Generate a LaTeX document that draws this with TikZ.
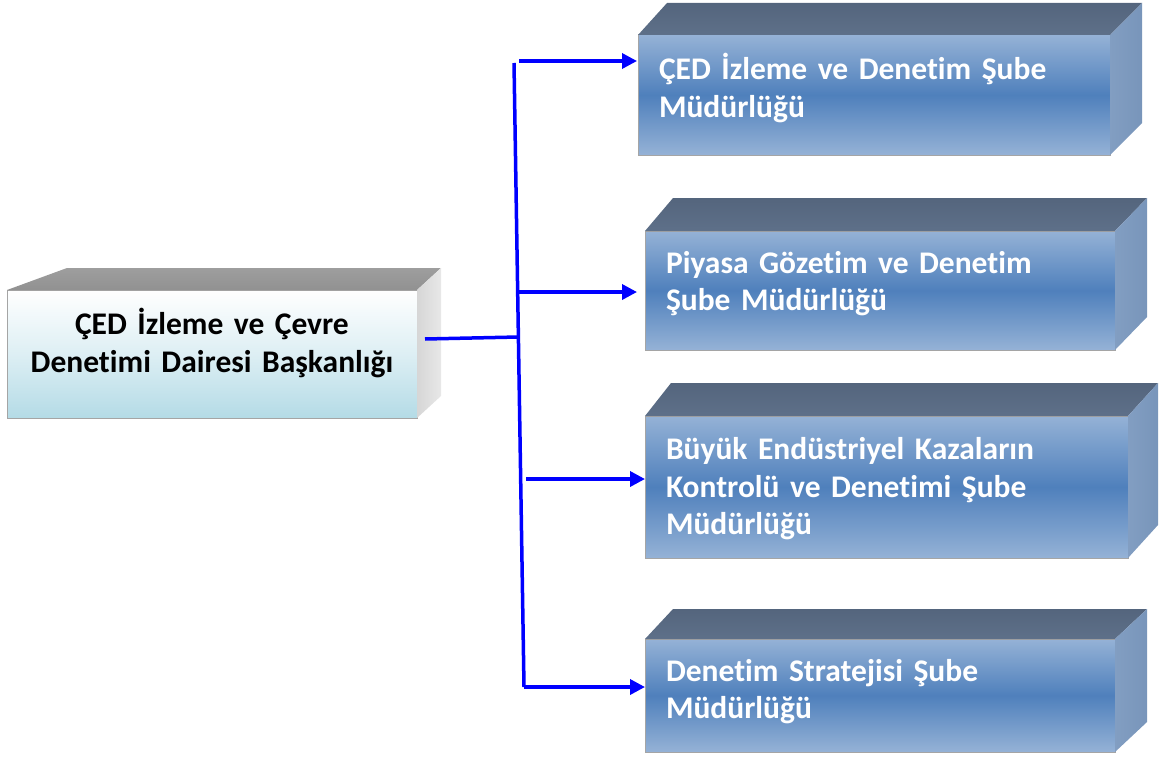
\documentclass[tikz,border=0pt]{standalone}
\usepackage{fontspec}
\setmainfont{Carlito}[Ligatures=NoCommon]
\usetikzlibrary{arrows.meta,calc}
\definecolor{conn}{RGB}{0,0,255}
\definecolor{blueTop}{RGB}{149,178,214}
\definecolor{blueMid}{RGB}{79,128,188}
\definecolor{slateA}{RGB}{84,101,125}
\definecolor{slateB}{RGB}{94,112,137}
\definecolor{sideA}{RGB}{130,158,194}
\definecolor{sideB}{RGB}{120,149,186}
\definecolor{edgeGray}{RGB}{165,165,165}
\definecolor{lightCyan}{RGB}{180,219,230}
\definecolor{grayTopA}{RGB}{145,145,145}
\definecolor{grayTopB}{RGB}{158,158,158}
\definecolor{graySideA}{RGB}{214,214,214}
\definecolor{graySideB}{RGB}{232,232,232}

\tikzset{
  bluefront/.style={draw=edgeGray, line width=1pt, outer sep=0pt,
    inner xsep=21pt, inner ysep=0pt, align=left, text=white,
    font=\bfseries\fontsize{31.5}{37.5}\selectfont,
    top color=blueTop, bottom color=blueTop, middle color=blueMid},
  headfront/.style={draw=edgeGray, line width=1pt, outer sep=0pt,
    inner xsep=0pt, inner ysep=0pt, align=center, text=black,
    font=\bfseries\fontsize{31.5}{37.5}\selectfont,
    top color=white, bottom color=lightCyan, middle color={lightCyan!45!white}},
  trunkline/.style={draw=conn, line width=3.5pt},
  arr/.style={draw=conn, line width=3.5pt, -{Triangle[length=15pt,width=15pt]}}
}

\newcommand{\cubefaces}[8]{%
  % #1 node, #2 left dx, #3 right dx, #4 dy, #5/#6 top colours, #7/#8 side colours
  \shade[top color=#5, bottom color=#6] (#1.north west) -- ++(#2,-#4)
     -- ($(#1.north east)+(#3,-#4)$) -- (#1.north east) -- cycle;
  \shade[left color=#7, right color=#8] (#1.north east) -- ++(#3,-#4)
     -- ($(#1.south east)+(#3,-#4)$) -- (#1.south east) -- cycle;
}
\newcommand{\liftby}[3]{\raisebox{#1}[\height][\depth]{\parbox{#2}{#3}}}

\begin{document}
\begin{tikzpicture}[x=1pt,y=-1pt]
\useasboundingbox (0,0) rectangle (1164,760);

% head box
\node[headfront, minimum width=410pt, minimum height=128pt, text width=410pt] (L) at (212,354)
  {\liftby{11pt}{410pt}{\centering ÇED İzleme ve Çevre\\Denetimi Dairesi Başkanlığı}};
\cubefaces{L}{60}{24}{22}{grayTopB}{grayTopA}{graySideA}{graySideB}

% branch boxes
\node[bluefront, minimum width=472pt, minimum height=120pt, text width=430pt] (b1) at (874,95)
  {\liftby{7pt}{430pt}{\raggedright ÇED İzleme ve Denetim Şube\\Müdürlüğü}};
\cubefaces{b1}{29}{32}{32}{slateA}{slateB}{sideA}{sideB}

\node[bluefront, minimum width=470pt, minimum height=119pt, text width=428pt] (b2) at (880,290.5)
  {\liftby{7pt}{428pt}{\raggedright Piyasa Gözetim ve Denetim\\Şube Müdürlüğü}};
\cubefaces{b2}{28}{32}{33}{slateA}{slateB}{sideA}{sideB}

\node[bluefront, minimum width=483pt, minimum height=142pt, text width=441pt] (b3) at (886.5,487)
  {\liftby{-2pt}{441pt}{\raggedright Büyük Endüstriyel Kazaların\\Kontrolü ve Denetimi Şube\\Müdürlüğü}};
\cubefaces{b3}{26}{30}{33}{slateA}{slateB}{sideA}{sideB}

\node[bluefront, minimum width=470pt, minimum height=113pt, text width=428pt] (b4) at (880,695.5)
  {\liftby{4pt}{428pt}{\raggedright Denetim Stratejisi Şube\\Müdürlüğü}};
\cubefaces{b4}{28}{32}{30}{slateA}{slateB}{sideA}{sideB}

% connectors
\coordinate (tTop) at (514,63);
\coordinate (tBot) at (524,687);
\coordinate (j0) at (518.4,337);
\coordinate (s1) at (519,61);
\coordinate (s2) at (518,292);
\coordinate (s3) at (526,479);

\draw[trunkline] ($(L.east)+(8,-15)$) -- (j0);
\draw[trunkline] (tTop) -- (tBot);
\draw[arr, shorten >=1pt] (s1) -- (s1 -| b1.west);
\draw[arr, shorten >=8pt] (s2) -- (s2 -| b2.west);
\draw[arr] (s3) -- (s3 -| b3.west);
\draw[arr] (tBot) -- (tBot -| b4.west);
\end{tikzpicture}
\end{document}
